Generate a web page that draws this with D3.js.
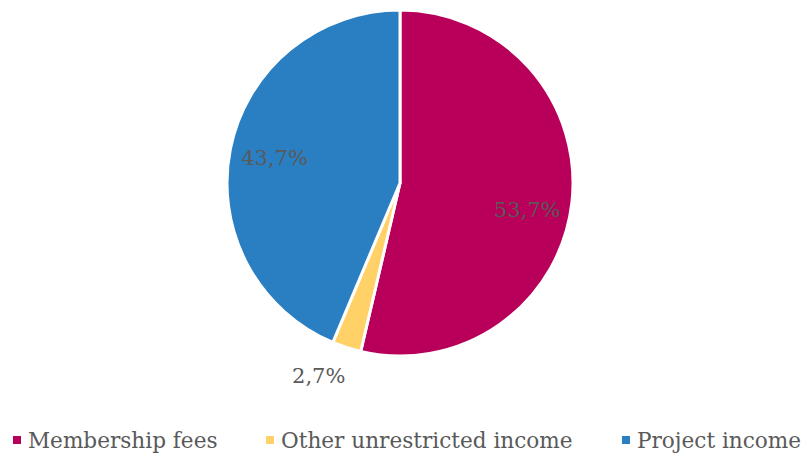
<!DOCTYPE html>
<html>
<head>
<meta charset="utf-8">
<script src="https://cdn.jsdelivr.net/npm/d3@7"></script>
<style>
  body { margin: 0; background: #fff; }
  text { font-family: "DejaVu Serif", "Liberation Serif", serif; }
</style>
</head>
<body>
<div id="chart"></div>
<script>
const categories = ["Membership fees", "Other unrestricted income", "Project income"];
const values = [53.7, 2.7, 43.7];
const labels = ["53,7%", "2,7%", "43,7%"];
const colors = ["#B8005A", "#FFD166", "#2A7FC3"];

const width = 807;
const height = 460;
const cx = 400;
const cy = 183;
const radius = 173;

const svg = d3
  .select("#chart")
  .append("svg")
  .attr("width", width)
  .attr("height", height);

const pie = d3.pie().sort(null).value((d) => d);
const arcs = pie(values);

const arc = d3.arc().innerRadius(0).outerRadius(radius);

const g = svg.append("g").attr("transform", `translate(${cx},${cy})`);

g.selectAll("path")
  .data(arcs)
  .join("path")
  .attr("d", arc)
  .attr("fill", (d, i) => colors[i])
  .attr("stroke", "#fff")
  .attr("stroke-width", 3)
  .attr("stroke-linejoin", "round");

// inside labels for big slices, outside for the small one
const inner = d3.arc().innerRadius(radius * 0.74).outerRadius(radius * 0.74);

function labelPos(d) {
  if (d.endAngle - d.startAngle < 0.3) {
    const r = radius * 1.21;
    return [Math.sin(d.endAngle) * r, -Math.cos(d.endAngle) * r];
  }
  const [x, y] = inner.centroid(d);
  return [x, y + (d.index === 0 ? 12 : 0)];
}

g.selectAll("text")
  .data(arcs)
  .join("text")
  .attr("transform", (d) => `translate(${labelPos(d)})`)
  .attr("text-anchor", "middle")
  .attr("dy", "0.35em")
  .attr("fill", "#595959")
  .attr("font-family", "DejaVu Serif")
  .style("font-size", "21px")
  .text((d, i) => labels[i]);

// legend
const legendX = [13, 266, 622];
const legend = svg
  .append("g")
  .selectAll("g")
  .data(categories)
  .join("g")
  .attr("transform", (d, i) => `translate(${legendX[i]},440)`);

legend
  .append("rect")
  .attr("x", 0)
  .attr("y", -4)
  .attr("width", 8)
  .attr("height", 8)
  .attr("fill", (d, i) => colors[i]);

legend
  .append("text")
  .attr("x", 15)
  .attr("dy", "0.35em")
  .attr("fill", "#595959")
  .attr("font-family", "DejaVu Serif")
  .style("font-size", "21.6px")
  .text((d) => d);
</script>
</body>
</html>
